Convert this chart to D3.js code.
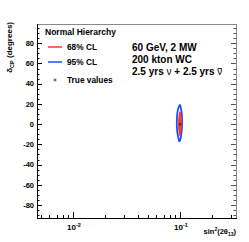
<!DOCTYPE html>
<html><head><meta charset="utf-8">
<script src="https://cdn.jsdelivr.net/npm/d3@7"></script>
<style>body{margin:0;background:#fff}svg{display:block}text{font-family:"Liberation Sans",Arial,sans-serif}</style>
</head><body><svg id="c" width="249" height="242"></svg>
<script>
// ---- data ----
const xDomain = [0.0046, 0.333];
const yDomain = [-92.8, 99];
const xMajorTicks = [0.01, 0.1];
const xMajorLabels = ["-2", "-1"];
const yMajorTicks = [-80, -60, -40, -20, 0, 20, 40, 60, 80];
const trueValue = {s: 0.1, d: 0};
// 95% CL contour (sin^2 2theta13, deltaCP)
const cl95_s = [0.0992, 0.0962, 0.0942, 0.0933, 0.0933, 0.0942, 0.0960, 0.0980, 0.1000, 0.1020, 0.1038, 0.1044, 0.1038, 0.1020, 0.1005];
const cl95_d = [18.8, 15.8, 10.9, 4.0, -2.0, -7.9, -12.8, -16.8, -15.8, -11.9, -4.9, 2.0, 9.9, 14.8, 18.3];
// 68% CL contour
const cl68_s = [0.0996, 0.0982, 0.0972, 0.0970, 0.0978, 0.0991, 0.1005, 0.1018, 0.1024, 0.1018, 0.1009];
const cl68_d = [11.9, 8.9, 4.0, -2.0, -6.9, -10.9, -9.9, -4.9, 1.0, 6.9, 10.9];
const legendItems = ["68% CL", "95% CL", "True values"];
const infoLines = ["60 GeV, 2 MW", "200 kton WC"];

// ---- drawing ----
const svg = d3.select("#c");
const L = 37, R = 236, T = 24, B = 218;
const x = d3.scaleLog().domain(xDomain).range([L, R]);
const y = d3.scaleLinear().domain(yDomain).range([B, T]);
const red = "#ff3a1a", blue = "#1f4dff";

// contours
const line = d3.line().curve(d3.curveCardinalClosed.tension(0.3));
const pts95 = cl95_s.map((s, i) => [x(s), y(cl95_d[i])]);
const pts68 = cl68_s.map((s, i) => [x(s), y(cl68_d[i])]);
svg.append("path").attr("d", line(pts95)).attr("fill", "none").attr("stroke", blue).attr("stroke-width", 1.8);
svg.append("path").attr("d", line(pts68)).attr("fill", red).attr("stroke", red).attr("stroke-width", 1.2);
svg.append("circle").attr("cx", x(trueValue.s)).attr("cy", y(trueValue.d)).attr("r", 1.2).attr("fill", "#333");

// frame
svg.append("line").attr("x1", L).attr("x2", R).attr("y1", T + 0.5).attr("y2", T + 0.5).attr("stroke", "#888");
svg.append("line").attr("x1", R + 0.5).attr("x2", R + 0.5).attr("y1", T).attr("y2", B).attr("stroke", "#888");

// y axis ticks (left & right)
const yMinor = d3.range(-90, 100, 5);
yMinor.forEach(v => {
  const major = v % 20 === 0;
  const len = major ? 5 : 2.5;
  const yy = Math.round(y(v)) + 0.5;
  svg.append("line").attr("x1", L).attr("x2", L + len).attr("y1", yy).attr("y2", yy).attr("stroke", "#000");
  svg.append("line").attr("x1", R).attr("x2", R - len).attr("y1", yy).attr("y2", yy).attr("stroke", "#555");
});
// x axis ticks
const xMinor = [];
[0.001, 0.01, 0.1].forEach(dec => { for (let k = 1; k <= 9; k++) { const v = dec * k; if (v >= xDomain[0] && v <= xDomain[1]) xMinor.push(v); } });
xMinor.forEach(v => {
  const major = xMajorTicks.some(m => Math.abs(m - v) < 1e-9);
  const len = major ? 6 : 3;
  const xx = Math.round(x(v)) + 0.5;
  svg.append("line").attr("x1", xx).attr("x2", xx).attr("y1", B).attr("y2", B - len).attr("stroke", "#000");
});
// axis lines
svg.append("line").attr("x1", L + 0.5).attr("x2", L + 0.5).attr("y1", T).attr("y2", B + 0.5).attr("stroke", "#000");
svg.append("line").attr("x1", L).attr("x2", R + 1).attr("y1", B + 0.5).attr("y2", B + 0.5).attr("stroke", "#000");

// y tick labels
yMajorTicks.forEach(v => {
  svg.append("text").attr("x", 34).attr("y", y(v) + 2.8).attr("text-anchor", "end")
    .attr("font-size", 7.5).attr("font-weight", "bold").text(v);
});
// x tick labels
xMajorTicks.forEach((v, i) => {
  const t = svg.append("text").attr("x", x(v) - 6).attr("y", 230).attr("font-size", 8).attr("font-weight", "bold");
  t.append("tspan").text("10");
  t.append("tspan").attr("dy", -3).attr("font-size", 5.5).text(xMajorLabels[i]);
});
// x axis title
const xt = svg.append("text").attr("x", 236).attr("y", 234).attr("text-anchor", "end").attr("font-size", 7.5).attr("font-weight", "bold");
xt.append("tspan").text("sin");
xt.append("tspan").attr("dy", -3).attr("font-size", 5).text("2");
xt.append("tspan").attr("dy", 3).text("(2θ");
xt.append("tspan").attr("dy", 2).attr("font-size", 5).text("13");
xt.append("tspan").attr("dy", -2).text(")");
// y axis title
const yt = svg.append("text").attr("transform", "translate(12,22) rotate(-90)").attr("text-anchor", "end").attr("font-size", 8).attr("font-weight", "bold");
yt.append("tspan").text("δ");
yt.append("tspan").attr("dy", 2).attr("font-size", 5.5).text("CP");
yt.append("tspan").attr("dy", -2).text(" (degrees)");

// legend
svg.append("text").attr("x", 45).attr("y", 35).attr("font-size", 8.5).attr("font-weight", "bold").text("Normal Hierarchy");
const legY = [47, 62, 80];
svg.append("line").attr("x1", 48).attr("x2", 62).attr("y1", legY[0]).attr("y2", legY[0]).attr("stroke", red).attr("stroke-width", 1.5);
svg.append("line").attr("x1", 48).attr("x2", 62).attr("y1", legY[1]).attr("y2", legY[1]).attr("stroke", blue).attr("stroke-width", 1.5);
svg.append("path").attr("d", d3.symbol(d3.symbolAsterisk, 8)()).attr("transform", `translate(55,${legY[2]})`).attr("stroke", "#444").attr("stroke-width", 0.7).attr("fill", "none");
legendItems.forEach((s, i) => {
  svg.append("text").attr("x", 67).attr("y", legY[i] + 3).attr("font-size", 8.3).attr("font-weight", "bold").text(s);
});

// info text
infoLines.forEach((s, i) => {
  svg.append("text").attr("x", 132).attr("y", 51 + 12 * i).attr("font-size", 10).attr("font-weight", "bold").text(s);
});
const it = svg.append("text").attr("x", 132).attr("y", 75).attr("font-size", 10).attr("font-weight", "bold");
it.append("tspan").text("2.5 yrs ");
it.append("tspan").attr("font-weight", "normal").text("ν");
it.append("tspan").text(" + 2.5 yrs ");
const nb = it.append("tspan").attr("font-weight", "normal").text("ν");
// overline on last nu
const n = it.node();
const cnt = n.getNumberOfChars();
const ext = n.getExtentOfChar(cnt - 1);
svg.append("line").attr("x1", ext.x + 0.5).attr("x2", ext.x + ext.width - 0.5).attr("y1", ext.y + 2.5).attr("y2", ext.y + 2.5).attr("stroke", "#000").attr("stroke-width", 0.8);
</script></body></html>
